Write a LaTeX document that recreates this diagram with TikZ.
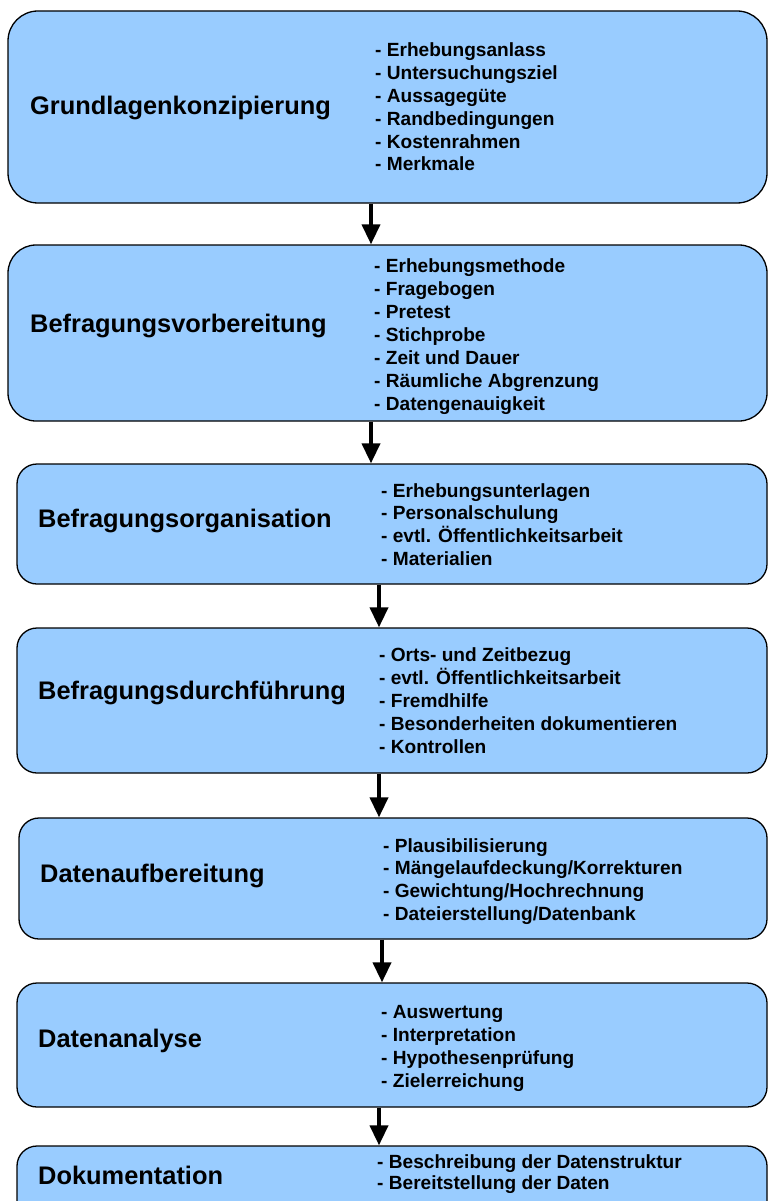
\documentclass[tikz,border=0pt]{standalone}
\usepackage{fontspec}
\setmainfont{Liberation Sans}
\usetikzlibrary{arrows.meta,calc}
\definecolor{boxblue}{HTML}{99CCFF}
\tikzset{
  box/.style={draw=black, line width=1.3pt, fill=boxblue, rounded corners=#1, inner sep=0pt},
  titletext/.style={font=\fontsize{25.4}{30}\selectfont\bfseries, anchor=base west, inner sep=0pt},
  itemtext/.style={font=\fontsize{19.1}{23}\selectfont\bfseries, anchor=base west, inner sep=0pt},
  arr/.style={line width=3.8pt, -{Triangle[width=18pt,length=20pt]}}
}
\begin{document}
\begin{tikzpicture}[x=1pt,y=-1pt]
\useasboundingbox (0,0) rectangle (768,1201);
\clip (0,0) rectangle (768,1201);
\fill[white] (0,0) rectangle (768,1201);

% boxes
\node[box=30pt, minimum width=759pt, minimum height=192pt] (b1) at (387.5,107) {};
\node[box=28pt, minimum width=759pt, minimum height=176pt] (b2) at (387.5,333) {};
\node[box=20pt, minimum width=750pt, minimum height=120pt] (b3) at (392,524) {};
\node[box=20pt, minimum width=750pt, minimum height=145pt] (b4) at (392,700.5) {};
\node[box=20pt, minimum width=748pt, minimum height=121pt] (b5) at (393,878.5) {};
\node[box=20pt, minimum width=750pt, minimum height=124pt] (b6) at (392,1045) {};
\node[box=20pt, minimum width=750pt, minimum height=124pt] (b7) at (392,1208) {};

% titles
\node[titletext] (t1) at (30,115) {Grundlagenkonzipierung};
\node[titletext] (t2) at (30,332) {Befragungsvorbereitung};
\node[titletext] (t3) at (38,527) {Befragungsorganisation};
\node[titletext] (t4) at (38,699) {Befragungsdurchführung};
\node[titletext] (t5) at (40,882) {Datenaufbereitung};
\node[titletext] (t6) at (38,1047) {Datenanalyse};
\node[titletext] (t7) at (38,1184) {Dokumentation};

% items
\foreach \t [count=\i] in {Erhebungsanlass,Untersuchungsziel,Aussagegüte,Randbedingungen,Kostenrahmen,Merkmale}
  \node[itemtext] (b1i\i) at (375,{57+22.8*(\i-1)}) {- \t};
\foreach \t [count=\i] in {Erhebungsmethode,Fragebogen,Pretest,Stichprobe,Zeit und Dauer,Räumliche Abgrenzung,Datengenauigkeit}
  \node[itemtext] (b2i\i) at (374,{272+23*(\i-1)}) {- \t};
\foreach \t [count=\i] in {Erhebungsunterlagen,Personalschulung,evtl. Öffentlichkeitsarbeit,Materialien}
  \node[itemtext] (b3i\i) at (381,{497+22.7*(\i-1)}) {- \t};
\foreach \t [count=\i] in {Orts- und Zeitbezug,evtl. Öffentlichkeitsarbeit,Fremdhilfe,Besonderheiten dokumentieren,Kontrollen}
  \node[itemtext] (b4i\i) at (379,{661+23*(\i-1)}) {- \t};
\foreach \t [count=\i] in {Plausibilisierung,Mängelaufdeckung/Korrekturen,Gewichtung/Hochrechnung,Dateierstellung/Datenbank}
  \node[itemtext] (b5i\i) at (383,{852+22.7*(\i-1)}) {- \t};
\foreach \t [count=\i] in {Auswertung,Interpretation,Hypothesenprüfung,Zielerreichung}
  \node[itemtext] (b6i\i) at (381,{1018+23*(\i-1)}) {- \t};
\foreach \t [count=\i] in {Beschreibung der Datenstruktur,Bereitstellung der Daten}
  \node[itemtext] (b7i\i) at (377,{1168+21*(\i-1)}) {- \t};

% arrows
\draw[arr] ([xshift=-16.5pt]b1.south) -- ([xshift=-16.5pt]b1.south |- b2.north);
\draw[arr] ([xshift=-16.5pt]b2.south) -- ([xshift=-16.5pt]b2.south |- b3.north);
\draw[arr] ([xshift=-13pt]b3.south) -- ([xshift=-13pt]b3.south |- b4.north);
\draw[arr] ([xshift=-13pt]b4.south) -- ([xshift=-13pt]b4.south |- b5.north);
\draw[arr] ([xshift=-11pt]b5.south) -- ([xshift=-11pt]b5.south |- b6.north);
\draw[arr] ([xshift=-13pt]b6.south) -- ([xshift=-13pt]b6.south |- b7.north);
\end{tikzpicture}
\end{document}
